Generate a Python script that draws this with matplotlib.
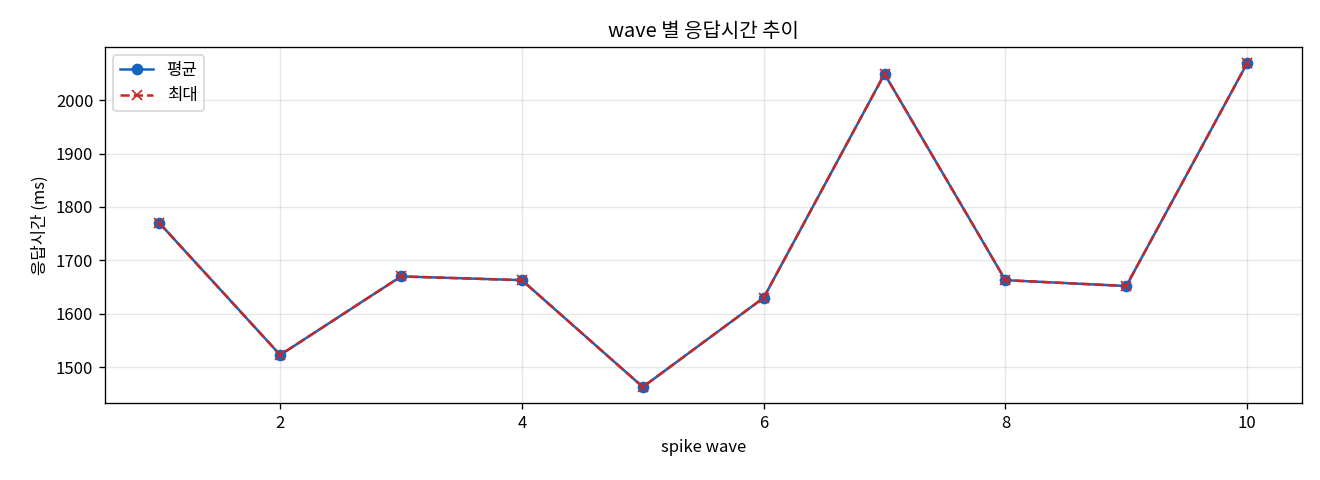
import numpy as np
import matplotlib
matplotlib.use("Agg")
import matplotlib.pyplot as plt

plt.rcParams['font.family'] = ['Noto Sans CJK KR', 'DejaVu Sans']
plt.rcParams['axes.unicode_minus'] = False

# data
waves     = [1, 2, 3, 4, 5, 6, 7, 8, 9, 10]
avg_ms    = [1770, 1523, 1670, 1663, 1463, 1630, 2049, 1663, 1652, 2069]
max_ms    = [1770, 1523, 1670, 1663, 1463, 1630, 2049, 1663, 1652, 2069]

fig, ax = plt.subplots(figsize=(11, 4), dpi=120)
ax.plot(waves, avg_ms, marker='o', color='#1565C0', linestyle='-', label='평균')
ax.plot(waves, max_ms, marker='x', color='#C62828', linestyle='--', label='최대')
ax.set_xlabel('spike wave')
ax.set_ylabel('응답시간 (ms)')
ax.set_title('wave 별 응답시간 추이')
ax.legend(loc='upper left')
ax.grid(True, alpha=0.3)

fig.subplots_adjust(left=0.0795, right=0.986, top=0.902, bottom=0.160)
fig.savefig('out.png', dpi=120)
plt.close(fig)
